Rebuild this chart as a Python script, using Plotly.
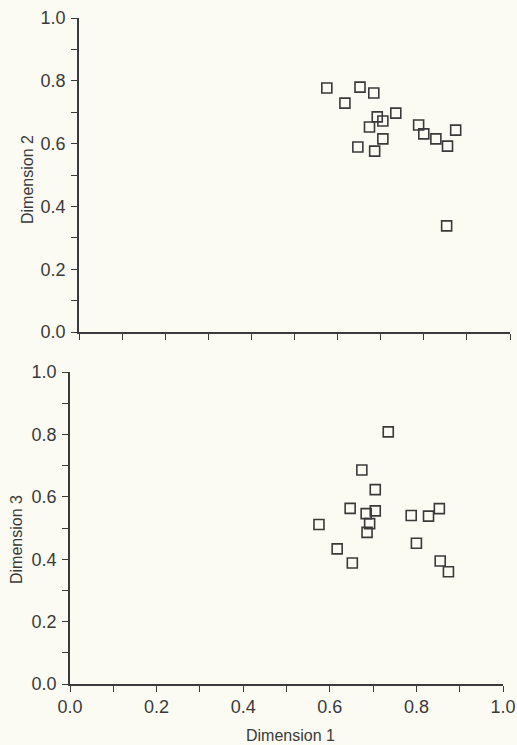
import plotly.graph_objects as go
from plotly.subplots import make_subplots

# Stimulus coordinates in a three-dimensional perceptual space
dim1 = [0.575, 0.617, 0.647, 0.652, 0.674, 0.684, 0.686, 0.692, 0.705, 0.705,
        0.735, 0.788, 0.800, 0.828, 0.853, 0.855, 0.874]
dim2 = [0.777, 0.729, 0.589, 0.780, 0.653, 0.761, 0.576, 0.685, 0.672, 0.615,
        0.697, 0.659, 0.631, 0.615, 0.338, 0.592, 0.643]
dim3 = [0.511, 0.433, 0.563, 0.388, 0.686, 0.546, 0.486, 0.514, 0.623, 0.555,
        0.808, 0.540, 0.451, 0.538, 0.562, 0.394, 0.360]

tick_vals = [0.0, 0.2, 0.4, 0.6, 0.8, 1.0]
tick_text = ["0.0", "0.2", "0.4", "0.6", "0.8", "1.0"]

INK = "#3a3a3a"
PAPER = "#fbfbf3"
FONT = "Liberation Sans"

fig = make_subplots(rows=2, cols=1)

marker = dict(symbol="square-open", size=10, color=INK, line=dict(width=1.6, color=INK))
fig.add_trace(go.Scatter(x=dim1, y=dim2, mode="markers", marker=marker,
                         showlegend=False, cliponaxis=False), row=1, col=1)
fig.add_trace(go.Scatter(x=dim1, y=dim3, mode="markers", marker=marker,
                         showlegend=False, cliponaxis=False), row=2, col=1)

axis_common = dict(
    range=[0, 1.0], showgrid=False, zeroline=False, showline=True,
    linecolor=INK, linewidth=1.5, ticks="outside", ticklen=6, tickwidth=1.3,
    tickcolor=INK, tickvals=tick_vals, ticktext=tick_text,
    minor=dict(dtick=0.1, tick0=0, ticks="outside", ticklen=6, tickwidth=1.3,
               tickcolor=INK, showgrid=False),
    tickfont=dict(family=FONT, size=18, color=INK),
    automargin=False, ticklabeloverflow="allow",
)

fig.update_layout(
    width=517, height=745,
    margin=dict(l=0, r=0, t=0, b=0),
    paper_bgcolor=PAPER, plot_bgcolor=PAPER,
    xaxis=dict(axis_common, domain=[79/517, 510/517], showticklabels=False,
               anchor="y"),
    yaxis=dict(axis_common, domain=[1 - 332/745, 1 - 18/745], anchor="x",
               ticklabelstandoff=2),
    xaxis2=dict(axis_common, domain=[70/517, 503/517], anchor="y2"),
    yaxis2=dict(axis_common, domain=[1 - 684/745, 1 - 372/745], anchor="x2",
                ticklabelstandoff=2),
    annotations=[
        dict(text="Dimension 2", x=27/517, y=1 - 180/745, xref="paper", yref="paper",
             xanchor="center", yanchor="middle",
             textangle=-90, showarrow=False, font=dict(family=FONT, size=16, color=INK)),
        dict(text="Dimension 3", x=16/517, y=1 - 540/745, xref="paper", yref="paper",
             xanchor="center", yanchor="middle",
             textangle=-90, showarrow=False, font=dict(family=FONT, size=16, color=INK)),
        dict(text="Dimension 1", x=290/517, y=1 - 735/745, xref="paper", yref="paper",
             xanchor="center", yanchor="middle",
             showarrow=False, font=dict(family=FONT, size=16, color=INK)),
    ],
)

fig.write_html(
    "out.html",
    config={"displayModeBar": False},
    post_script="document.body.style.margin='0';document.body.style.background='%s';" % PAPER,
)
